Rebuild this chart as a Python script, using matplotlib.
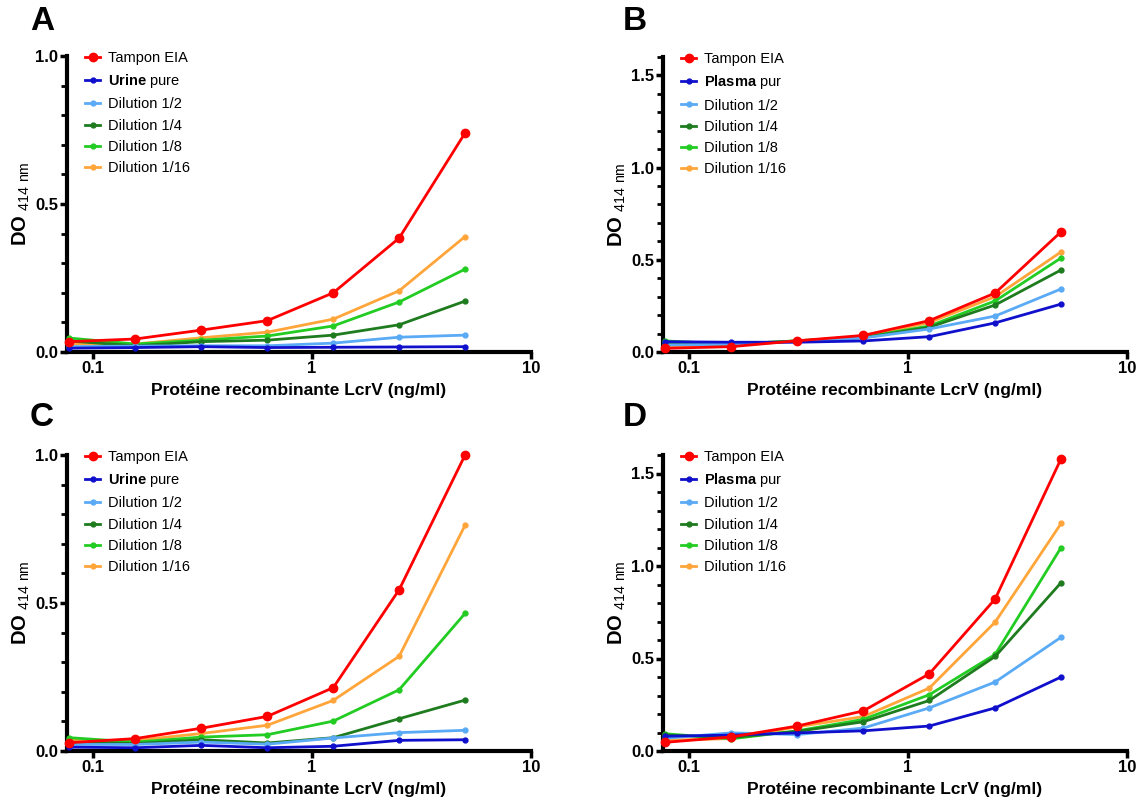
import matplotlib
matplotlib.use('Agg')
import matplotlib.pyplot as plt
from matplotlib.ticker import FixedLocator, MultipleLocator, NullLocator

plt.rcParams['font.family'] = ['Liberation Sans', 'DejaVu Sans']
plt.rcParams['mathtext.fontset'] = 'custom'
plt.rcParams['mathtext.rm'] = 'Liberation Sans'
plt.rcParams['mathtext.bf'] = 'Liberation Sans:bold'
plt.rcParams['mathtext.default'] = 'regular'

# concentrations LcrV (ng/ml)
conc = [0.078, 0.156, 0.3125, 0.625, 1.25, 2.5, 5.0]

series_names = ['tampon', 'pur', 'd2', 'd4', 'd8', 'd16']
colors = {'tampon': '#FF0000', 'pur': '#1010CC', 'd2': '#5AAAF5',
          'd4': '#1E7B1E', 'd8': '#22CC22', 'd16': '#FFA53A'}

# A : urine (tampon EIA vs urine)
A_tampon = [0.035, 0.044, 0.074, 0.106, 0.200, 0.385, 0.740]
A_pur = [0.013, 0.015, 0.018, 0.015, 0.016, 0.017, 0.018]
A_d2 = [0.018, 0.020, 0.021, 0.021, 0.030, 0.050, 0.057]
A_d4 = [0.037, 0.021, 0.035, 0.040, 0.057, 0.092, 0.172]
A_d8 = [0.047, 0.027, 0.040, 0.054, 0.088, 0.169, 0.280]
A_d16 = [0.027, 0.027, 0.048, 0.067, 0.111, 0.207, 0.390]

# B : plasma
B_tampon = [0.020, 0.029, 0.061, 0.090, 0.170, 0.320, 0.652]
B_pur = [0.056, 0.053, 0.053, 0.060, 0.083, 0.158, 0.260]
B_d2 = [0.038, 0.042, 0.056, 0.076, 0.125, 0.195, 0.342]
B_d4 = [0.047, 0.043, 0.060, 0.078, 0.134, 0.255, 0.445]
B_d8 = [0.060, 0.042, 0.061, 0.080, 0.141, 0.277, 0.510]
B_d16 = [0.029, 0.034, 0.061, 0.083, 0.160, 0.300, 0.543]

# C : urine
C_tampon = [0.028, 0.042, 0.077, 0.117, 0.214, 0.545, 1.000]
C_pur = [0.013, 0.011, 0.019, 0.011, 0.016, 0.036, 0.038]
C_d2 = [0.022, 0.022, 0.030, 0.023, 0.044, 0.062, 0.070]
C_d4 = [0.030, 0.025, 0.038, 0.027, 0.045, 0.109, 0.172]
C_d8 = [0.045, 0.030, 0.047, 0.055, 0.101, 0.207, 0.465]
C_d16 = [0.036, 0.036, 0.059, 0.087, 0.171, 0.320, 0.763]

# D : plasma
D_tampon = [0.047, 0.076, 0.135, 0.217, 0.417, 0.822, 1.580]
D_pur = [0.080, 0.086, 0.098, 0.109, 0.135, 0.233, 0.400]
D_d2 = [0.069, 0.098, 0.089, 0.124, 0.233, 0.373, 0.615]
D_d4 = [0.086, 0.073, 0.106, 0.158, 0.273, 0.511, 0.910]
D_d8 = [0.093, 0.066, 0.109, 0.171, 0.304, 0.522, 1.100]
D_d16 = [0.058, 0.067, 0.131, 0.186, 0.340, 0.697, 1.230]

labels_urine = ['Tampon EIA', r'$\bf{Urine}$ pure', 'Dilution 1/2',
                'Dilution 1/4', 'Dilution 1/8', 'Dilution 1/16']
labels_plasma = ['Tampon EIA', r'$\bf{Plasma}$ pur', 'Dilution 1/2',
                 'Dilution 1/4', 'Dilution 1/8', 'Dilution 1/16']

panels = [
    ('A', [A_tampon, A_pur, A_d2, A_d4, A_d8, A_d16], labels_urine, 1.0),
    ('B', [B_tampon, B_pur, B_d2, B_d4, B_d8, B_d16], labels_plasma, 1.6),
    ('C', [C_tampon, C_pur, C_d2, C_d4, C_d8, C_d16], labels_urine, 1.0),
    ('D', [D_tampon, D_pur, D_d2, D_d4, D_d8, D_d16], labels_plasma, 1.6),
]

W, H = 1145, 801
fig = plt.figure(figsize=(W / 100, H / 100), dpi=100)

# axes boxes in pixels: left, top(y of ymax), right, bottom
boxes = {'A': (67, 56, 531, 352), 'B': (663, 57, 1127, 352),
         'C': (67, 455, 531, 751), 'D': (663, 455, 1127, 751)}
letter_pos = {'A': (30, 21), 'B': (623, 21), 'C': (30, 417), 'D': (623, 417)}

for name, data, labels, ytop in panels:
    l, t, r, b = boxes[name]
    ax = fig.add_axes([l / W, 1 - b / H, (r - l) / W, (b - t) / H])
    for i, key in enumerate(series_names):
        if key == 'tampon':
            ax.plot(conc, data[i], color=colors[key], lw=2, marker='o', ms=6,
                    label=labels[i], zorder=10, clip_on=False)
        else:
            ax.plot(conc, data[i], color=colors[key], lw=2, marker='o', ms=3.5,
                    label=labels[i], zorder=5 - i * 0.1, clip_on=False)
    ax.set_xscale('log')
    ax.set_xlim(0.076, 10)
    ax.set_ylim(0, ytop)
    ax.xaxis.set_major_locator(FixedLocator([0.1, 1, 10]))
    ax.xaxis.set_minor_locator(NullLocator())
    ax.set_xticklabels(['0.1', '1', '10'])
    ax.yaxis.set_major_locator(MultipleLocator(0.5))
    ax.yaxis.set_minor_locator(MultipleLocator(0.1))
    ax.yaxis.set_major_formatter(matplotlib.ticker.FormatStrFormatter('%.1f'))
    for s in ['top', 'right']:
        ax.spines[s].set_visible(False)
    for s in ['left', 'bottom']:
        ax.spines[s].set_linewidth(3)
    ax.tick_params(which='major', length=5, width=2.5, labelsize=12, pad=1.5)
    ax.tick_params(which='minor', length=4, width=2)
    for lab in ax.get_xticklabels() + ax.get_yticklabels():
        lab.set_fontweight('bold')
    ax.set_xlabel('Protéine recombinante LcrV (ng/ml)', fontsize=12.5,
                  fontweight='bold', labelpad=5)
    ax.set_ylabel(r'$\bf{DO}$ $_{414\ nm}$', fontsize=14.5, labelpad=2)
    ax.legend(loc='upper left', bbox_to_anchor=(0.027, 1.037), frameon=False,
              fontsize=10.5, handlelength=1.0, handletextpad=0.55,
              labelspacing=0.5, borderaxespad=0)
    lx, ly = letter_pos[name]
    fig.text(lx / W, 1 - ly / H, name, fontsize=24, fontweight='bold',
             va='center', ha='left')

fig.savefig('out.png', dpi=100, facecolor='white')
